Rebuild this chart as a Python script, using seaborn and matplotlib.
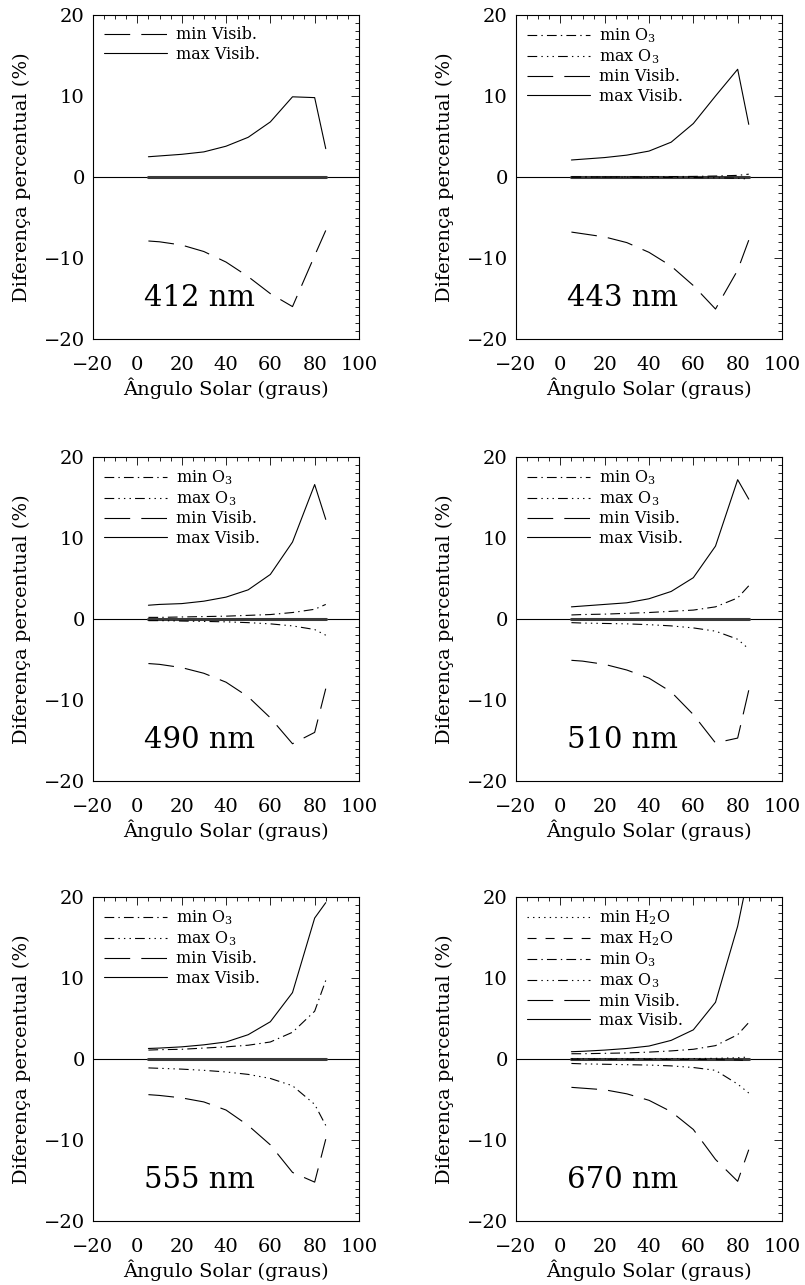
import matplotlib
matplotlib.use('Agg')
import matplotlib.pyplot as plt
import seaborn as sns
from matplotlib.ticker import MultipleLocator
from matplotlib.lines import Line2D

# ---------------- data ----------------
angles = [5, 10, 20, 30, 40, 50, 60, 70, 80, 85]
baseline = [0, 0, 0, 0, 0, 0, 0, 0, 0, 0]

vis_max_412 = [2.5, 2.6, 2.8, 3.1, 3.8, 4.9, 6.8, 9.9, 9.8, 3.5]
vis_min_412 = [-7.9, -8.0, -8.4, -9.2, -10.5, -12.3, -14.4, -16.0, -9.7, -6.6]

vis_max_443 = [2.1, 2.2, 2.4, 2.7, 3.2, 4.3, 6.6, 10.0, 13.3, 6.5]
vis_min_443 = [-6.8, -7.0, -7.4, -8.1, -9.3, -11.0, -13.4, -16.3, -11.5, -7.8]
o3_min_443 = [0.0, 0.0, 0.0, 0.02, 0.03, 0.05, 0.07, 0.12, 0.2, 0.35]
o3_max_443 = [0.0, 0.0, 0.0, -0.02, -0.03, -0.05, -0.07, -0.1, -0.15, -0.25]

vis_max_490 = [1.7, 1.8, 1.9, 2.2, 2.7, 3.6, 5.5, 9.5, 16.6, 12.3]
vis_min_490 = [-5.5, -5.6, -6.0, -6.7, -7.8, -9.6, -12.2, -15.4, -14.0, -8.6]
o3_min_490 = [0.2, 0.2, 0.25, 0.3, 0.35, 0.45, 0.55, 0.8, 1.2, 1.8]
o3_max_490 = [-0.2, -0.2, -0.25, -0.3, -0.35, -0.45, -0.6, -0.85, -1.3, -2.0]

vis_max_510 = [1.5, 1.6, 1.8, 2.0, 2.5, 3.4, 5.1, 9.0, 17.2, 14.8]
vis_min_510 = [-5.1, -5.2, -5.6, -6.3, -7.3, -9.0, -11.8, -15.3, -14.7, -8.8]
o3_min_510 = [0.5, 0.55, 0.6, 0.7, 0.8, 0.95, 1.1, 1.5, 2.6, 4.1]
o3_max_510 = [-0.45, -0.5, -0.55, -0.6, -0.7, -0.85, -1.1, -1.5, -2.5, -3.7]

vis_max_555 = [1.3, 1.35, 1.5, 1.75, 2.1, 3.0, 4.6, 8.2, 17.4, 19.3]
vis_min_555 = [-4.4, -4.5, -4.8, -5.3, -6.3, -8.2, -10.6, -14.0, -15.2, -9.9]
o3_min_555 = [1.1, 1.15, 1.2, 1.35, 1.5, 1.7, 2.1, 3.3, 5.9, 9.7]
o3_max_555 = [-1.1, -1.15, -1.25, -1.4, -1.6, -1.9, -2.4, -3.3, -5.6, -8.2]

vis_max_670 = [0.9, 0.95, 1.1, 1.3, 1.6, 2.3, 3.6, 7.0, 16.4, 23.0]
vis_min_670 = [-3.5, -3.6, -3.8, -4.3, -5.1, -6.5, -8.7, -12.4, -15.1, -11.2]
o3_min_670 = [0.65, 0.65, 0.7, 0.75, 0.85, 1.0, 1.2, 1.65, 3.0, 4.5]
o3_max_670 = [-0.55, -0.6, -0.65, -0.7, -0.75, -0.85, -1.05, -1.4, -3.1, -4.2]
h2o_min_670 = [0.02, 0.02, 0.02, 0.03, 0.03, 0.04, 0.05, 0.08, 0.15, 0.25]
h2o_max_670 = [-0.02, -0.02, -0.02, -0.03, -0.03, -0.04, -0.05, -0.08, -0.12, -0.2]

wavelengths = ['412 nm', '443 nm', '490 nm', '510 nm', '555 nm', '670 nm']
series_names = ['min H2O', 'max H2O', 'min O3', 'max O3', 'min Visib.', 'max Visib.']
legend_labels = {
    'min H2O': 'min H$_2$O', 'max H2O': 'max H$_2$O',
    'min O3': 'min O$_3$', 'max O3': 'max O$_3$',
    'min Visib.': 'min Visib.', 'max Visib.': 'max Visib.',
}

panels = [
    {'min Visib.': vis_min_412, 'max Visib.': vis_max_412},
    {'min O3': o3_min_443, 'max O3': o3_max_443, 'min Visib.': vis_min_443, 'max Visib.': vis_max_443},
    {'min O3': o3_min_490, 'max O3': o3_max_490, 'min Visib.': vis_min_490, 'max Visib.': vis_max_490},
    {'min O3': o3_min_510, 'max O3': o3_max_510, 'min Visib.': vis_min_510, 'max Visib.': vis_max_510},
    {'min O3': o3_min_555, 'max O3': o3_max_555, 'min Visib.': vis_min_555, 'max Visib.': vis_max_555},
    {'min H2O': h2o_min_670, 'max H2O': h2o_max_670, 'min O3': o3_min_670, 'max O3': o3_max_670,
     'min Visib.': vis_min_670, 'max Visib.': vis_max_670},
]

# ---------------- style ----------------
sns.set_style('white')
plt.rcParams['font.family'] = ['DejaVu Serif']
plt.rcParams['mathtext.fontset'] = 'dejavuserif'
plt.rcParams['mathtext.default'] = 'regular'
plt.rcParams['lines.scale_dashes'] = False
plt.rcParams['axes.unicode_minus'] = True
plt.rcParams['text.color'] = 'black'
plt.rcParams['axes.labelcolor'] = 'black'
plt.rcParams['xtick.color'] = 'black'
plt.rcParams['ytick.color'] = 'black'

line_styles = {
    'min H2O': (0, (1, 3)),
    'max H2O': (0, (6.5, 6.5)),
    'min O3': (0, (7, 3, 1, 3)),
    'max O3': (0, (7, 3, 1, 3, 1, 3, 1, 3)),
    'min Visib.': (0, (18.5, 8)),
    'max Visib.': '-',
}

W, H = 805, 1285
fig = plt.figure(figsize=(W / 100, H / 100), dpi=100)
fig.patch.set_facecolor('white')

col_left = [93, 516]
row_top = [15, 457, 897]
ax_w, ax_h = 266, 324

for i, (wl, panel) in enumerate(zip(wavelengths, panels)):
    r, c = divmod(i, 2)
    left = col_left[c] / W
    bottom = 1 - (row_top[r] + ax_h) / H
    ax = fig.add_axes([left, bottom, ax_w / W, ax_h / H])
    ax.set_facecolor('white')

    ax.axhline(0, color='black', lw=0.8, zorder=1)
    sns.lineplot(x=angles, y=baseline, ax=ax, color='#3a3a3a', lw=2.2,
                 label='_nolegend_', legend=False, zorder=2)

    handles = []
    for name in series_names:
        if name not in panel:
            continue
        sns.lineplot(x=angles, y=panel[name], ax=ax, color='black', lw=0.8,
                     linestyle=line_styles[name], legend=False, zorder=3)
        handles.append(Line2D([], [], color='black', lw=0.8,
                              linestyle=line_styles[name], label=legend_labels[name]))

    ax.set_xlim(-20, 100)
    ax.set_ylim(-20, 20)
    ax.xaxis.set_major_locator(MultipleLocator(20))
    ax.xaxis.set_minor_locator(MultipleLocator(5))
    ax.yaxis.set_major_locator(MultipleLocator(10))
    ax.yaxis.set_minor_locator(MultipleLocator(1))
    ax.tick_params(which='both', direction='in', top=True, right=True,
                   color='black', width=0.6)
    ax.tick_params(which='major', length=6, labelsize=14)
    ax.tick_params(axis='x', which='major', pad=12)
    ax.tick_params(axis='y', which='major', pad=6)
    ax.tick_params(which='minor', length=3)
    for s in ax.spines.values():
        s.set_color('black')
        s.set_linewidth(0.8)

    ax.set_xlabel('\u00c2ngulo Solar (graus)', fontsize=14, labelpad=3)
    ax.set_ylabel('Diferen\u00e7a percentual (%)', fontsize=14, labelpad=9)

    ax.text(0.19, 0.125, wl, transform=ax.transAxes, fontsize=21,
            ha='left', va='center', color='black')

    ax.legend(handles=handles, loc='upper left', bbox_to_anchor=(0, 1),
              frameon=False, fontsize=11.5, handlelength=3.95, handletextpad=0.55,
              labelspacing=0.15, borderaxespad=0.3, borderpad=0.4)

fig.savefig('out.png', dpi=100, facecolor='white')
